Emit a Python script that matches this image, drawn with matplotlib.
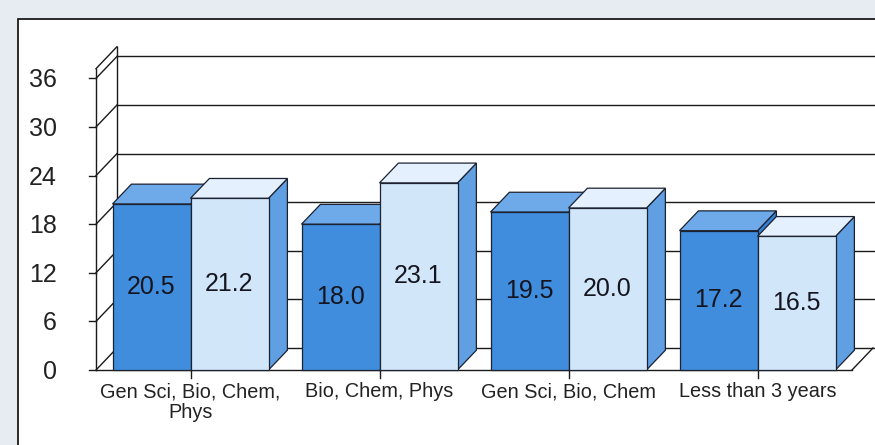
import matplotlib
matplotlib.use("Agg")
import matplotlib.pyplot as plt
from matplotlib.patches import Polygon, Rectangle

plt.rcParams['font.family'] = ['Liberation Sans', 'DejaVu Sans']

# ---- data ----
categories = ["Gen Sci, Bio, Chem,\nPhys", "Bio, Chem, Phys", "Gen Sci, Bio, Chem", "Less than 3 years"]
series_a = [20.5, 18.0, 19.5, 17.2]   # dark blue
series_b = [21.2, 23.1, 20.0, 16.5]   # light blue
yticks = [0, 6, 12, 18, 24, 30, 36]

# ---- layout (pixel geometry of the reference) ----
W, H = 875, 445
X0 = 96.0        # front axis x pixel
CAT_PX = 189.0   # pixels per category
Y0 = 370.0       # front floor y pixel
PX_PER_UNIT = 8.1
WALL_DX_PX, WALL_DY_PX = 21.0, 22.0
BAR_DEPTH_FRAC = 0.9
BAR_W = 78.0 / CAT_PX
YTOP = 37.2

fig = plt.figure(figsize=(W / 100, H / 100), dpi=100)
fig.patch.set_facecolor('#e6ecf2')
ax = fig.add_axes([0, 0, 1, 1])
ax.set_xlim(-X0 / CAT_PX, (W - X0) / CAT_PX)
ax.set_ylim(-(H - Y0) / PX_PER_UNIT, Y0 / PX_PER_UNIT)
ax.axis('off')

# white panel with black frame
ax.add_patch(Rectangle((18 / W, -0.05), 1.1, 1 - 19 / H + 0.05, transform=ax.transAxes,
                       facecolor='white', edgecolor='#1a1a1a', lw=1.3, zorder=0))

wdx = WALL_DX_PX / CAT_PX
wdy = WALL_DY_PX / PX_PER_UNIT
ncat = len(categories)
xmax = ncat
line_kw = dict(color='#1a1a1a', lw=1.0)
txt_col = '#222222'

# back wall gridlines
for t in yticks:
    ax.plot([wdx, xmax + wdx + 1], [t + wdy, t + wdy], zorder=1, **line_kw)
    # left wall slants
    ax.plot([0, wdx], [t, t + wdy], zorder=1, **line_kw)
    # tick marks
    ax.plot([-7 / CAT_PX, 0], [t, t], zorder=1, **line_kw)
    ax.text(-39 / CAT_PX, t - 2 / PX_PER_UNIT, str(t), ha='right', va='center',
            fontsize=18, color=txt_col)

# left wall edges
ax.plot([0, 0], [0, YTOP], zorder=1, **line_kw)
ax.plot([wdx, wdx], [wdy, YTOP + wdy], zorder=1, **line_kw)
ax.plot([0, wdx], [YTOP, YTOP + wdy], zorder=1, **line_kw)
# floor
ax.plot([0, xmax], [0, 0], zorder=1, **line_kw)
ax.plot([xmax, xmax + wdx], [0, wdy], zorder=1, **line_kw)

# category ticks and labels
for i, c in enumerate(categories):
    xc = i + 0.5
    ax.plot([xc, xc], [0, -8 / PX_PER_UNIT], zorder=5, **line_kw)
    ax.text(xc, -12 / PX_PER_UNIT, c, ha='center', va='top', fontsize=14.3,
            color=txt_col, linespacing=1.1)

bdx = wdx * BAR_DEPTH_FRAC
bdy = wdy * BAR_DEPTH_FRAC
styles = [
    dict(front='#3f8ddc', top='#6eaaea', side='#3480d4'),
    dict(front='#d2e6fa', top='#e4f0fd', side='#5f9fe2'),
]
edge = '#1c2230'

z = 2
for i in range(ncat):
    for j, vals in enumerate([series_a, series_b]):
        v = vals[i]
        st = styles[j]
        xl = i + 0.5 - BAR_W + j * BAR_W
        xr = xl + BAR_W
        side = [(xr, 0), (xr + bdx, bdy), (xr + bdx, v + bdy), (xr, v)]
        top = [(xl, v), (xr, v), (xr + bdx, v + bdy), (xl + bdx, v + bdy)]
        front = [(xl, 0), (xr, 0), (xr, v), (xl, v)]
        for pts, col in [(side, st['side']), (top, st['top']), (front, st['front'])]:
            ax.add_patch(Polygon(pts, closed=True, facecolor=col, edgecolor=edge,
                                 lw=0.9, joinstyle='miter', zorder=z))
            z += 1
        ax.text((xl + xr) / 2, v / 2, f"{v:.1f}", ha='center', va='center',
                fontsize=18, color='#15151f', zorder=z)
        z += 1

fig.savefig('out.png', dpi=100, facecolor=fig.get_facecolor())
